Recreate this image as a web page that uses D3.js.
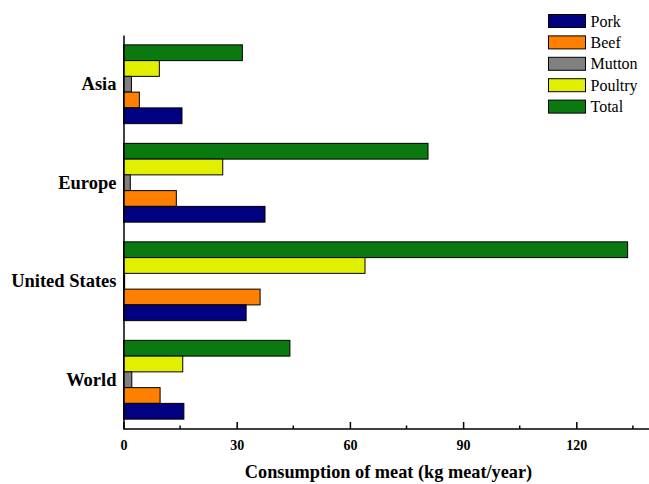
<!DOCTYPE html>
<html>
<head>
<meta charset="utf-8">
<script src="https://cdn.jsdelivr.net/npm/d3@7"></script>
<style>
  html, body { margin: 0; padding: 0; background: #fff; }
  svg { display: block; }
  text { font-family: "Liberation Serif", "Times New Roman", serif; fill: #000; }
</style>
</head>
<body>
<svg id="chart" width="649" height="484"></svg>
<script>
// Regions, top to bottom
const regions = ["Asia", "Europe", "United States", "World"];
// Series drawn inside each region, top to bottom
const seriesNames = ["Total", "Poultry", "Mutton", "Beef", "Pork"];
// Legend order
const legendNames = ["Pork", "Beef", "Mutton", "Poultry", "Total"];
const seriesColors = ["#0a7a10", "#e1f000", "#808080", "#ff8000", "#000080"];

// Consumption in kg meat per year, one array per series (same order as regions)
const pork    = [15.5, 37.5, 32.5, 16.0];
const beef    = [4.2, 14.0, 36.2, 9.7];
const mutton  = [2.1, 1.8, 0.3, 2.2];
const poultry = [9.5, 26.3, 64.0, 15.7];
const total   = [31.5, 80.7, 133.6, 44.1];

const majorTicks = [0, 30, 60, 90, 120];
const minorTicks = [15, 45, 75, 105, 135];

const valuesBySeries = { Total: total, Poultry: poultry, Mutton: mutton, Beef: beef, Pork: pork };
const colorOf = d3.scaleOrdinal().domain(seriesNames).range(seriesColors);

const svg = d3.select("#chart");
const plot = { left: 123.5, right: 648, top: 35, bottom: 429 };

const x = d3.scaleLinear().domain([0, 139]).range([plot.left, plot.right]);
const y = d3.scaleBand().domain(regions).range([plot.top, plot.bottom])
  .paddingInner(0.2).paddingOuter(0.1);
const ySub = d3.scaleBand().domain(seriesNames).range([0, y.bandwidth()]);

const serif = '"Liberation Serif", "Times New Roman", serif';

// Bars
const groups = svg.append("g").selectAll("g")
  .data(regions)
  .join("g")
  .attr("transform", d => `translate(0,${y(d)})`);

groups.selectAll("rect")
  .data((r, i) => seriesNames.map(s => ({ series: s, value: valuesBySeries[s][i] })))
  .join("rect")
  .attr("x", x(0))
  .attr("y", d => ySub(d.series))
  .attr("width", d => x(d.value) - x(0))
  .attr("height", ySub.bandwidth())
  .attr("fill", d => colorOf(d.series))
  .attr("stroke", "#000")
  .attr("stroke-width", 1);

// Bottom axis with inward ticks
const xAxis = svg.append("g").attr("transform", `translate(0,${plot.bottom})`);
xAxis.call(d3.axisBottom(x).tickValues(majorTicks).tickSize(-7).tickPadding(11).tickFormat(d3.format("d")))
  .call(g => g.select(".domain").attr("stroke-width", 1.5).attr("d", `M${plot.left},0H${plot.right + 2}`))
  .call(g => g.selectAll(".tick line").attr("stroke-width", 1.5))
  .call(g => g.selectAll(".tick text")
    .style("font-family", serif)
    .style("font-weight", "bold").style("font-size", "14px"));

svg.append("g").attr("transform", `translate(0,${plot.bottom})`)
  .selectAll("line").data(minorTicks).join("line")
  .attr("x1", d => x(d)).attr("x2", d => x(d))
  .attr("y1", 0).attr("y2", -3.5)
  .attr("stroke", "#000").attr("stroke-width", 1.5);

// Left axis: line and region labels
svg.append("g").attr("transform", `translate(${plot.left},0)`)
  .call(d3.axisLeft(y).tickSize(0).tickPadding(7))
  .call(g => g.select(".domain").attr("stroke-width", 1.5))
  .call(g => g.selectAll(".tick text")
    .style("font-family", serif)
    .style("font-weight", "bold").style("font-size", "18.5px"));

// Axis title
svg.append("text")
  .attr("x", 388.5)
  .attr("y", 478)
  .attr("text-anchor", "middle")
  .style("font-family", serif)
  .style("font-weight", "bold")
  .style("font-size", "18.3px")
  .text("Consumption of meat (kg meat/year)");

// Legend
const legend = svg.append("g").attr("transform", "translate(548.5,14.5)");
const item = legend.selectAll("g").data(legendNames).join("g")
  .attr("transform", (d, i) => `translate(0,${i * 21.4})`);
item.append("rect")
  .attr("width", 37).attr("height", 13)
  .attr("fill", d => colorOf(d))
  .attr("stroke", "#000").attr("stroke-width", 1);
item.append("text")
  .attr("x", 42).attr("y", 12)
  .style("font-family", serif)
  .style("font-size", "16px")
  .text(d => d);
</script>
</body>
</html>
